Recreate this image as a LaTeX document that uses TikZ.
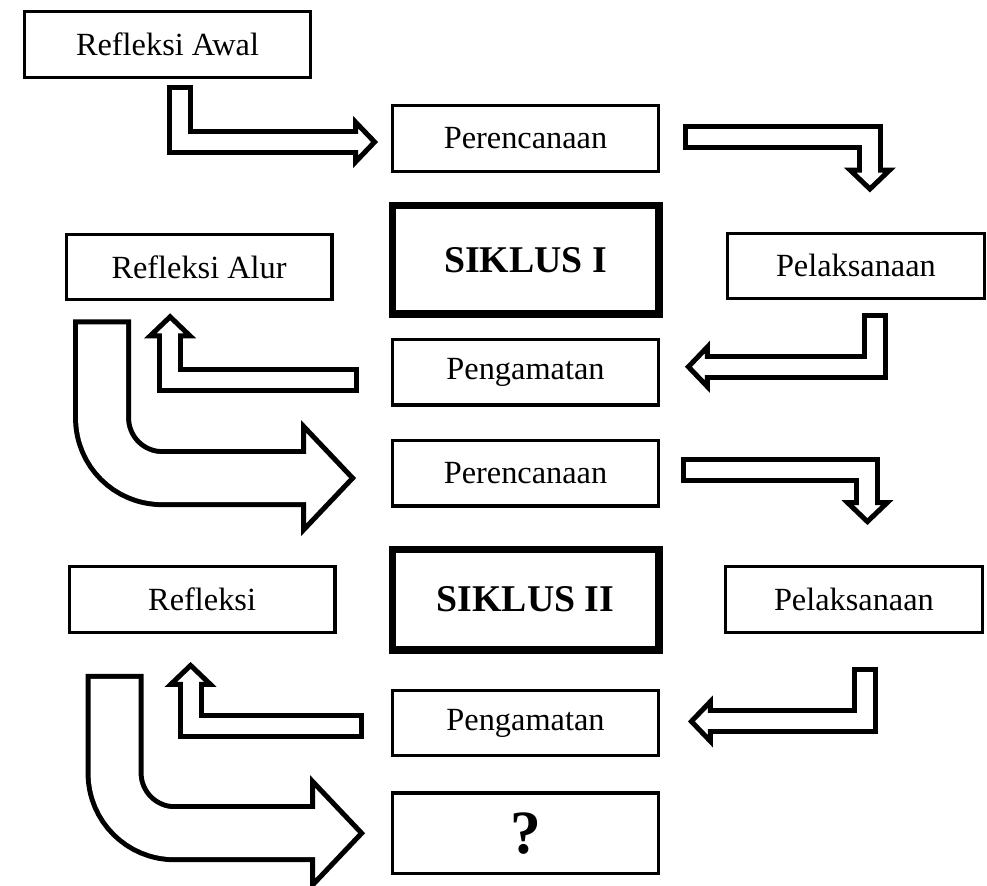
\documentclass[tikz,border=0pt]{standalone}
\usepackage{fontspec}
\setmainfont{Liberation Serif}
\usepackage{tikz}
\usetikzlibrary{arrows.meta, positioning, calc}

\begin{document}
\begin{tikzpicture}[
    box/.style={
        draw, line width=0.066cm, fill=white, inner sep=0pt,
        minimum width=5.31cm, minimum height=1.31cm,
        font=\fontsize{18.4}{20}\selectfont
    },
    siklus/.style={
        box, line width=0.15cm, minimum width=5.33cm,
        font=\bfseries\fontsize{21.5}{24}\selectfont
    },
    hollow/.style={
        line width=0.52cm,
        -{Triangle[length=0.5cm, width=1.02cm, line width=0.1cm, fill=white]},
        postaction={draw=white, -, line width=0.32cm, shorten <=0.1cm, shorten >=0.33cm}
    },
    bighollow/.style={
        line width=1.16cm, rounded corners=1.2cm,
        -{Triangle[length=1.1cm, width=2.3cm, line width=0.1cm, fill=white]},
        postaction={draw=white, -, line width=0.96cm, shorten <=0.1cm, shorten >=0.94cm}
    }
]
    \useasboundingbox (0,0) rectangle (19.74,-17.72);

    \node[box, minimum width=5.71cm] (awal) at (3.35,-0.89) {Refleksi Awal};
    \node[box] (per1) at (10.51,-2.77) {Perencanaan};
    \node[siklus, minimum height=2.17cm] (sik1) [below=0.58cm of per1] {SIKLUS I};
    \node[box] (pen1) [below=0.40cm of sik1] {Pengamatan};
    \node[box] (per2) [below=0.64cm of pen1] {Perencanaan};
    \node[siklus, minimum height=2.01cm] (sik2) [below=0.76cm of per2] {SIKLUS II};
    \node[box] (pen2) [below=0.70cm of sik2] {Pengamatan};
    \node[box, minimum height=1.61cm, font=\bfseries\fontsize{35}{38}\selectfont] (tanya) [below=0.68cm of pen2] {?};
    \node[box] (alur) [left=1.1cm of sik1, yshift=-0.14cm] {Refleksi Alur};
    \node[box, minimum width=5.15cm] (pel1) [right=1.26cm of sik1, yshift=-0.12cm] {Pelaksanaan};
    \node[box] (refl) [left=1.04cm of sik2] {Refleksi};
    \node[box, minimum width=5.15cm] (pel2) [right=1.22cm of sik2] {Pelaksanaan};

    \draw[hollow] ([xshift=0.25cm, yshift=-0.12cm]awal.south) |- ([xshift=-0.26cm, yshift=-0.07cm]per1.west);
    \draw[hollow] ([xshift=0.46cm, yshift=0.03cm]per1.east) -| ([xshift=0.28cm, yshift=0.78cm]pel1.north);
    \draw[hollow] ([xshift=0.38cm, yshift=-0.26cm]pel1.south) |- ([xshift=0.5cm, yshift=0.11cm]pen1.east);
    \draw[hollow] ([xshift=-0.64cm, yshift=-0.15cm]pen1.west) -| ([xshift=-0.58cm, yshift=-0.24cm]alur.south);
    \draw[bighollow] ([xshift=-1.94cm, yshift=-0.36cm]alur.south) |- ([xshift=-0.7cm, yshift=-0.1cm]per2.west);
    \draw[hollow] ([xshift=0.42cm, yshift=0.06cm]per2.east) -| ([xshift=0.27cm, yshift=0.8cm]pel2.north);
    \draw[hollow] ([xshift=0.22cm, yshift=-0.66cm]pel2.south) |- ([xshift=0.56cm, yshift=0.03cm]pen2.east);
    \draw[hollow] ([xshift=-0.54cm, yshift=-0.07cm]pen2.west) -| ([xshift=-0.23cm, yshift=-0.56cm]refl.south);
    \draw[bighollow] ([xshift=-1.75cm, yshift=-0.8cm]refl.south) |- ([xshift=-0.52cm]tanya.west);
\end{tikzpicture}
\end{document}
